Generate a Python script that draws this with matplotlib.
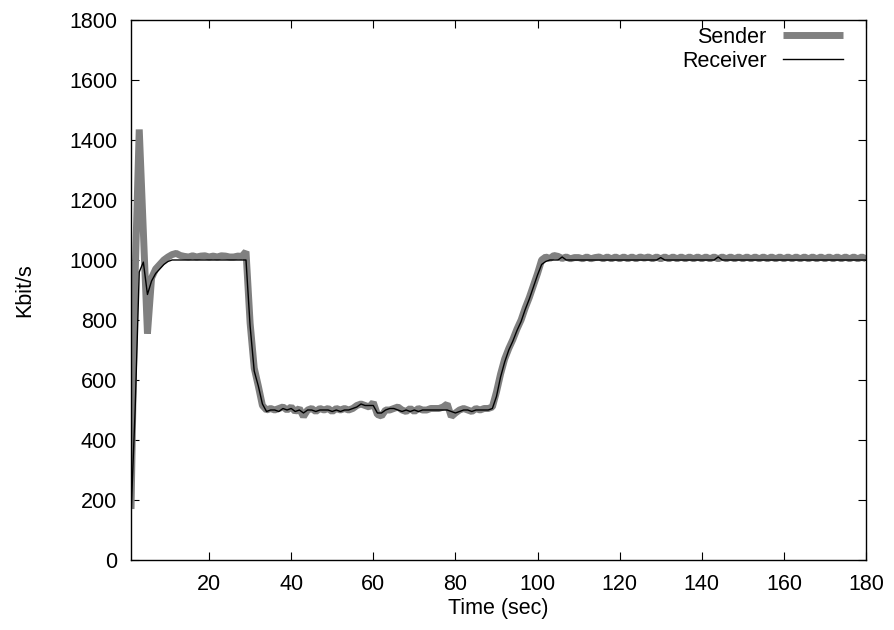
import matplotlib
matplotlib.use("Agg")
from matplotlib import pyplot as plt

plt.rcParams['font.family'] = ['Liberation Sans', 'DejaVu Sans']
plt.rcParams['font.size'] = 15.5

# time in seconds, one sample per second
time = list(range(1, 181))

# sender rate (Kbit/s)
sender = [
    170, 950, 1435, 1095, 755, 940, 970, 985, 1000, 1010,
    1018, 1022, 1015, 1012, 1010, 1014, 1010, 1013, 1014, 1010,
    1013, 1010, 1014, 1013, 1010, 1010, 1013, 1012, 1028, 790,
    640, 580, 515, 500, 505, 500, 505, 510, 500, 510,
    495, 505, 478, 500, 505, 495, 505, 500, 505, 495,
    505, 500, 505, 500, 505, 515, 520, 515, 510, 525,
    485, 480, 500, 500, 505, 510, 500, 495, 505, 495,
    505, 500, 500, 505, 505, 505, 510, 520, 478, 490,
    500, 505, 500, 495, 505, 500, 505, 505, 510, 560,
    620, 670, 705, 735, 770, 800, 840, 875, 915, 955,
    1000, 1010, 1005, 1015, 1012, 1005, 1010, 1004, 1008, 1008,
    1004, 1010, 1004, 1008, 1010, 1004, 1010, 1004, 1010, 1004,
    1010, 1004, 1010, 1004, 1010, 1006, 1010, 1004, 1010, 1004,
    1010, 1004, 1010, 1004, 1010, 1004, 1010, 1004, 1010, 1004,
    1010, 1004, 1010, 1004, 1010, 1004, 1010, 1004, 1010, 1004,
    1010, 1004, 1010, 1004, 1010, 1004, 1010, 1004, 1010, 1004,
    1010, 1004, 1010, 1004, 1010, 1004, 1010, 1004, 1010, 1004,
    1010, 1004, 1010, 1004, 1010, 1004, 1010, 1004, 1010, 1004,
]

# receiver rate (Kbit/s)
receiver = [
    150, 500, 960, 993, 885, 930, 955, 970, 985, 995,
    1000, 1000, 1000, 1000, 1000, 1000, 1000, 1000, 1000, 1000,
    1000, 1000, 1000, 1000, 1000, 1000, 1000, 1000, 1000, 780,
    630, 580, 520, 495, 500, 500, 495, 505, 500, 505,
    495, 500, 490, 500, 500, 495, 500, 500, 500, 495,
    500, 495, 500, 500, 505, 510, 520, 515, 515, 515,
    490, 490, 500, 505, 505, 500, 495, 500, 495, 500,
    495, 500, 500, 500, 500, 500, 500, 500, 495, 490,
    495, 500, 500, 495, 500, 500, 500, 500, 505, 545,
    610, 660, 700, 730, 765, 795, 835, 870, 910, 950,
    985, 995, 1000, 1000, 1000, 1010, 1000, 1000, 1000, 1000,
    1000, 1000, 1000, 1000, 1000, 1000, 1000, 1000, 1000, 1000,
    1000, 1000, 1000, 1000, 1000, 1000, 1000, 1000, 1000, 1008,
    1000, 1000, 1000, 1000, 1000, 1000, 1000, 1000, 1000, 1000,
    1000, 1000, 1000, 1010, 1000, 1000, 1000, 1000, 1000, 1000,
    1000, 1000, 1000, 1000, 1000, 1000, 1000, 1000, 1000, 1000,
    1000, 1000, 1000, 1000, 1000, 1000, 1000, 1000, 1000, 1000,
    1000, 1000, 1000, 1000, 1000, 1000, 1000, 1000, 1000, 1000,
]

xticks = [20, 40, 60, 80, 100, 120, 140, 160, 180]
yticks = list(range(0, 1801, 200))

fig = plt.figure(figsize=(8.95, 6.3), dpi=100)
ax = fig.add_axes([0.1464, 0.1111, 0.8212, 0.8572])

ax.plot(time, sender, color='#808080', linewidth=5, label='Sender',
        solid_joinstyle='bevel', solid_capstyle='butt')
ax.plot(time, receiver, color='black', linewidth=1, label='Receiver')

ax.set_xlim(1, 180)
ax.set_ylim(0, 1800)
ax.set_xticks(xticks)
ax.set_yticks(yticks)
ax.tick_params(direction='in', length=6, top=True, right=True, width=0.8, pad=10)
for s in ax.spines.values():
    s.set_linewidth(1)

ax.set_xlabel('Time (sec)', labelpad=2)
ax.set_ylabel('Kbit/s', labelpad=24)

ax.legend(loc='upper right', bbox_to_anchor=(0.9687, 0.987), frameon=False,
          markerfirst=False, handlelength=2.8, handletextpad=0.75,
          borderaxespad=0, borderpad=0, labelspacing=0.12)

fig.savefig('out.png', dpi=100)
